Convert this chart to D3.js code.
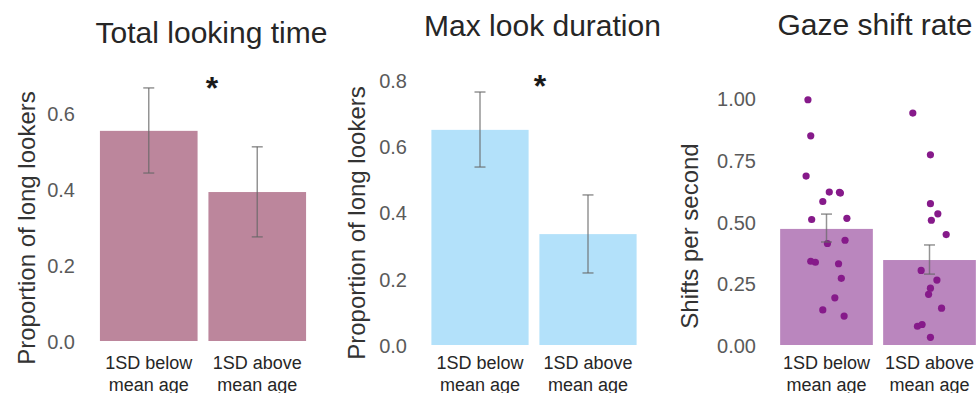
<!DOCTYPE html>
<html>
<head>
<meta charset="utf-8">
<script src="https://cdn.jsdelivr.net/npm/d3@7"></script>
<style>
  body { margin: 0; background: #fff; }
  svg { display: block; font-family: "Liberation Sans", Arial, sans-serif; }
</style>
</head>
<body>
<svg id="chart" width="976" height="393"></svg>
<script>
// ---- data ----
const categories = ["1SD below|mean age", "1SD above|mean age"];

const panelTitles = ["Total looking time", "Max look duration", "Gaze shift rate"];
const yTitles = ["Proportion of long lookers", "Proportion of long lookers", "Shifts per second"];

const totalLookingMeans = [0.553, 0.392];
const totalLookingLow = [0.442, 0.274];
const totalLookingHigh = [0.666, 0.511];
const totalLookingTicks = [0.0, 0.2, 0.4, 0.6];

const maxLookMeans = [0.648, 0.334];
const maxLookLow = [0.536, 0.217];
const maxLookHigh = [0.762, 0.452];
const maxLookTicks = [0.0, 0.2, 0.4, 0.6, 0.8];

const gazeShiftMeans = [0.470, 0.344];
const gazeShiftLow = [0.417, 0.287];
const gazeShiftHigh = [0.530, 0.405];
const gazeShiftTicks = [0.00, 0.25, 0.50, 0.75, 1.00];

// individual participants (values), with horizontal jitter (fraction of bar width)
const gazeBelowValues = [0.993, 0.847, 0.684, 0.619, 0.618, 0.615, 0.581, 0.508, 0.513, 0.411, 0.424, 0.339, 0.335, 0.329, 0.270, 0.191, 0.142, 0.117];
const gazeBelowJitter = [-0.20, -0.17, -0.22, 0.03, 0.14, 0.15, -0.04, -0.16, 0.22, 0.01, 0.20, -0.17, -0.12, 0.13, 0.16, 0.09, -0.04, 0.19];
const gazeAboveValues = [0.939, 0.770, 0.572, 0.531, 0.505, 0.447, 0.302, 0.263, 0.230, 0.205, 0.149, 0.076, 0.083, 0.031];
const gazeAboveJitter = [-0.18, 0.01, 0.01, 0.09, 0.02, 0.18, -0.09, 0.08, 0.01, -0.01, 0.13, -0.13, -0.08, 0.01];

const significance = ["*", "*", ""];

// ---- layout ----
const svg = d3.select("#chart");

const panels = [
  { means: totalLookingMeans, lo: totalLookingLow, hi: totalLookingHigh, ticks: totalLookingTicks, fmt: d3.format(".1f"),
    x: [94.5, 311.5], y0: 341, ppu: 380, color: "#bc869c", axisX: 75, yTitleX: 26, yTitleY: 228,
    titleX: 211.5, titleY: 43, starX: 212, starY: 99, points: null },
  { means: maxLookMeans, lo: maxLookLow, hi: maxLookHigh, ticks: maxLookTicks, fmt: d3.format(".1f"),
    x: [426, 642], y0: 345, ppu: 332, color: "#b3e1fa", axisX: 407, yTitleX: 356, yTitleY: 223,
    titleX: 542.5, titleY: 36, starX: 540, starY: 97, points: null },
  { means: gazeShiftMeans, lo: gazeShiftLow, hi: gazeShiftHigh, ticks: gazeShiftTicks, fmt: d3.format(".2f"),
    x: [775, 981], y0: 345, ppu: 247, color: "#ba86be", axisX: 756, yTitleX: 689, yTitleY: 236,
    titleX: 875, titleY: 35, starX: 0, starY: 0,
    points: [ {values: gazeBelowValues, jitter: gazeBelowJitter}, {values: gazeAboveValues, jitter: gazeAboveJitter} ] }
];

panels.forEach((p, i) => {
  const g = svg.append("g");
  const x = d3.scaleBand().domain(categories).range(p.x).paddingInner(0.1).paddingOuter(0.05);
  const maxV = d3.max(p.ticks) * 1.1;
  const y = d3.scaleLinear().domain([0, maxV]).range([p.y0, p.y0 - maxV * p.ppu]);

  // title
  g.append("text").attr("x", p.titleX).attr("y", p.titleY)
    .attr("text-anchor", "middle").attr("font-size", 30).attr("fill", "#262626")
    .text(panelTitles[i]);

  // y axis
  const ax = g.append("g").attr("transform", `translate(${p.axisX + 2},0)`)
    .call(d3.axisLeft(y).tickValues(p.ticks).tickFormat(p.fmt).tickSize(0).tickPadding(2));
  ax.select(".domain").remove();
  ax.selectAll("text").attr("font-size", 20).attr("fill", "#5a5a5a")
    .attr("font-family", "Liberation Sans, Arial, sans-serif").attr("dy", "0.38em");

  // y title
  g.append("text")
    .attr("transform", `translate(${p.yTitleX},${p.yTitleY}) rotate(-90)`)
    .attr("text-anchor", "middle").attr("dominant-baseline", "central")
    .attr("font-size", 24).attr("fill", "#333")
    .text(yTitles[i]);

  // bars
  g.selectAll("rect.bar").data(p.means).join("rect")
    .attr("class", "bar")
    .attr("x", (d, j) => x(categories[j]))
    .attr("width", x.bandwidth())
    .attr("y", d => y(d))
    .attr("height", d => y(0) - y(d))
    .attr("fill", p.color);

  // points
  if (p.points) {
    p.points.forEach((grp, j) => {
      const cx = x(categories[j]) + x.bandwidth() / 2;
      g.selectAll(null).data(grp.values).join("circle")
        .attr("cx", (d, k) => cx + grp.jitter[k] * x.bandwidth())
        .attr("cy", d => y(d))
        .attr("r", 3.6)
        .attr("fill", "#861a8a");
    });
  }

  // error bars
  p.means.forEach((m, j) => {
    const cx = x(categories[j]) + x.bandwidth() / 2;
    const eg = g.append("g").attr("stroke", "#666").attr("stroke-opacity", 0.7).attr("stroke-width", 1.5);
    eg.append("line").attr("x1", cx).attr("x2", cx).attr("y1", y(p.lo[j])).attr("y2", y(p.hi[j]));
    eg.append("line").attr("x1", cx - 5.5).attr("x2", cx + 5.5).attr("y1", y(p.lo[j])).attr("y2", y(p.lo[j]));
    eg.append("line").attr("x1", cx - 5.5).attr("x2", cx + 5.5).attr("y1", y(p.hi[j])).attr("y2", y(p.hi[j]));
  });

  // x labels
  categories.forEach((c, j) => {
    const cx = x(c) + x.bandwidth() / 2;
    const lines = c.split("|");
    lines.forEach((ln, k) => {
      g.append("text").attr("x", cx).attr("y", 369 + k * 22)
        .attr("text-anchor", "middle").attr("font-size", 18).attr("fill", "#262626")
        .text(ln);
    });
  });

  // significance
  if (significance[i]) {
    g.append("text").attr("x", p.starX).attr("y", p.starY)
      .attr("text-anchor", "middle").attr("font-size", 32).attr("font-weight", "bold").attr("fill", "#1a1a1a")
      .text(significance[i]);
  }
});
</script>
</body>
</html>
